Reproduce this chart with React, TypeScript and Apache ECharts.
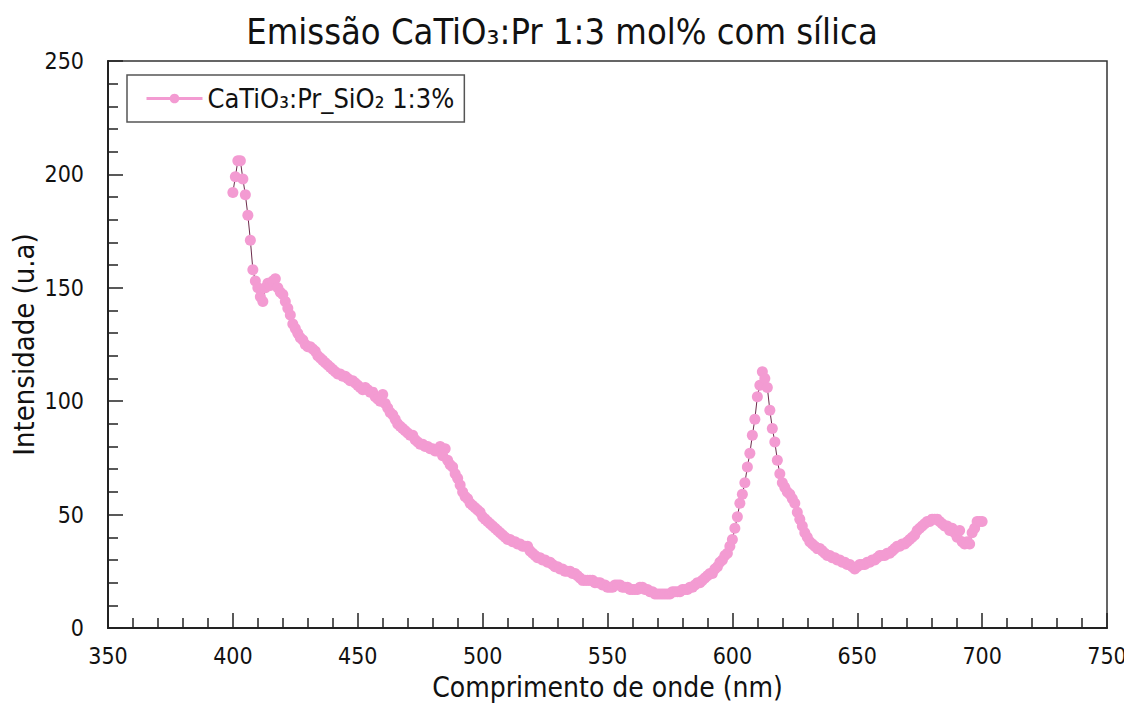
import React, { useEffect, useRef } from "react";
import * as echarts from "echarts";

const startNm = 400;
// Emission intensity (u.a) at 1 nm steps from 400 nm to 700 nm
const intensity: number[] = [
  192, 199, 206, 206, 198, 191, 182, 171, 158, 153,
  150, 146, 144, 150, 152, 151, 153, 154, 150, 148,
  147, 144, 141, 138, 134, 132, 130, 128, 127, 125,
  124, 124, 123, 122, 120, 119, 118, 117, 116, 115,
  114, 113, 112, 112, 111, 111, 110, 109, 109, 108,
  107, 106, 105, 106, 105, 104, 104, 102, 101, 100,
  103, 99, 97, 95, 94, 92, 90, 89, 88, 87,
  86, 85, 85, 83, 82, 81, 81, 80, 80, 79,
  79, 78, 78, 80, 76, 79, 74, 72, 71, 68,
  66, 63, 60, 58, 57, 55, 54, 53, 52, 51,
  49, 48, 47, 46, 45, 44, 43, 42, 41, 40,
  39, 39, 38, 38, 37, 37, 36, 36, 36, 34,
  33, 32, 31, 31, 30, 30, 29, 29, 28, 27,
  27, 26, 26, 25, 25, 25, 24, 24, 23, 22,
  21, 21, 21, 21, 21, 20, 20, 20, 19, 19,
  18, 18, 18, 19, 19, 19, 18, 18, 18, 17,
  17, 17, 17, 18, 18, 17, 17, 16, 16, 15,
  15, 15, 15, 15, 15, 15, 16, 16, 16, 16,
  17, 17, 17, 18, 18, 19, 20, 20, 21, 22,
  23, 24, 24, 26, 27, 29, 30, 32, 33, 36,
  39, 44, 49, 55, 59, 64, 71, 77, 85, 92,
  102, 107, 113, 110, 106, 96, 88, 82, 74, 68,
  64, 62, 60, 59, 57, 55, 51, 48, 45, 42,
  40, 38, 37, 36, 35, 35, 34, 33, 32, 32,
  31, 31, 30, 30, 29, 29, 28, 28, 27, 26,
  27, 28, 28, 28, 29, 29, 30, 30, 31, 32,
  32, 32, 33, 33, 34, 35, 36, 36, 37, 37,
  38, 39, 40, 41, 43, 44, 45, 46, 47, 47,
  48, 48, 48, 47, 46, 45, 45, 43, 44, 42,
  40, 43, 38, 37, 38, 37, 42, 44, 47, 47,
  47,
];
const wavelengths: number[] = intensity.map((_, i) => startNm + i);

const titleText = "Emissão CaTiO₃:Pr 1:3 mol% com sílica";
const seriesName = "CaTiO₃:Pr_SiO₂ 1:3%";
const xName = "Comprimento de onde (nm)";
const yName = "Intensidade (u.a)";

const FONT = "'DejaVu Sans Condensed', 'DejaVu Sans', sans-serif";
const TICK_FONT = "'Liberation Sans Narrow', 'DejaVu Sans Condensed', sans-serif";
const PINK = "#F39BD2";

export default function App() {
  const ref = useRef<HTMLDivElement>(null);
  useEffect(() => {
    if (!ref.current) return;
    const chart = echarts.init(ref.current, undefined, { renderer: "svg" });
    const data = wavelengths.map((w, i) => [w, intensity[i]]);
    const axisCommon = {
      type: "value",
      nameLocation: "middle",
      nameMoveOverlap: false,
      nameTextStyle: { fontFamily: FONT, fontSize: 28, color: "#111" },
      axisLine: { show: true, onZero: false, lineStyle: { color: "#222", width: 2 } },
      axisTick: { show: true, inside: true, length: 15, lineStyle: { color: "#222", width: 1.5 } },
      minorTick: { show: true, splitNumber: 5, length: 10, lineStyle: { color: "#222", width: 1.5 } },
      splitLine: { show: false },
    };
    chart.setOption({
      animation: false,
      backgroundColor: "#ffffff",
      title: {
        text: titleText,
        left: "center",
        top: 8,
        textStyle: { fontFamily: FONT, fontSize: 36, fontWeight: "normal", color: "#111" },
      },
      legend: {
        show: true,
        left: 127,
        top: 75,
        orient: "horizontal",
        padding: [10, 10, 10, 18],
        borderColor: "#555",
        borderWidth: 1.5,
        itemWidth: 56,
        itemHeight: 12,
        textStyle: { fontFamily: FONT, fontSize: 27, color: "#111" },
        itemStyle: { color: PINK },
        lineStyle: { color: PINK, width: 3 },
        data: [seriesName],
      },
      grid: {
        left: 108,
        right: 17,
        top: 61,
        bottom: 76,
        show: true,
        borderColor: "#333",
        borderWidth: 1.5,
        outerBoundsMode: "none",
        containLabel: false,
      },
      xAxis: {
        ...axisCommon,
        min: 350,
        max: 750,
        interval: 50,
        name: xName,
        nameGap: 45,
        axisLabel: { fontFamily: TICK_FONT, fontSize: 23, color: "#111", margin: 16 },
      },
      yAxis: {
        ...axisCommon,
        nameTextStyle: { fontFamily: FONT, fontSize: 29, color: "#111" },
        min: 0,
        max: 250,
        interval: 50,
        name: yName,
        nameGap: 70,
        axisLabel: { fontFamily: TICK_FONT, fontSize: 23, color: "#111", margin: 24 },
      },
      series: [
        {
          name: seriesName,
          type: "line",
          data,
          symbol: "circle",
          symbolSize: 11,
          showAllSymbol: true,
          itemStyle: { color: PINK, borderWidth: 0 },
          lineStyle: { color: "#6b2a4a", width: 1 },
          z: 3,
        },
      ],
    });
    return () => chart.dispose();
  }, []);
  return (
    <div
      ref={ref}
      style={{ position: "fixed", left: 0, top: 0, width: 1124, height: 704, background: "#fff" }}
    />
  );
}
